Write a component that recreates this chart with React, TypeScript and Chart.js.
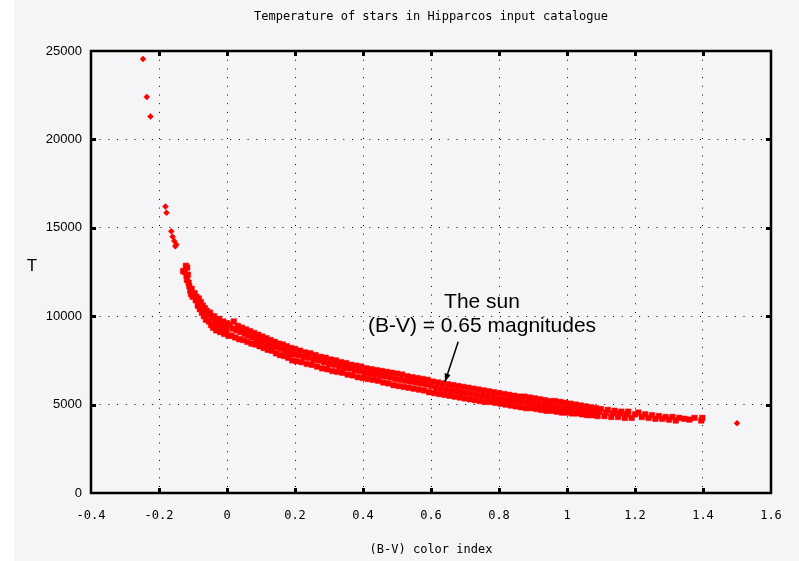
import React, { useEffect, useRef } from "react";
import { Chart, registerables } from "chart.js";

Chart.register(...registerables);

const titleText = "Temperature of stars in Hipparcos input catalogue";
const xAxisTitle = "(B-V) color index";
const yAxisTitle = "T";
const sunLines = ["The sun", "(B-V) = 0.65 magnitudes"];
const sunTextAt = [0.75, 10800, 9450]; // x, y line1, y line2 (data units)
const sunArrowFrom = [0.68, 8550];
const sunArrowTo = [0.641, 6280];

const xMin = -0.4;
const xMax = 1.6;
const xStep = 0.2;
const yMin = 0;
const yMax = 25000;
const yStep = 5000;

// [B-V, T] pairs
const hotStars: number[][] = [
  [-0.247, 24550], [-0.236, 22400], [-0.225, 21300], [-0.181, 16200], [-0.178, 15850],
  [-0.164, 14800], [-0.16, 14500], [-0.155, 14250], [-0.152, 13950], [-0.149, 14050],
  [1.5, 3950],
];

const bStars: number[][] = [
  [-0.121, 12850], [-0.117, 12750], [-0.129, 12550], [-0.124, 12500], [-0.119, 12300],
  [-0.115, 12350], [-0.118, 12050], [-0.113, 11900], [-0.111, 11700], [-0.108, 11450],
  [-0.104, 11550], [-0.106, 11250], [-0.101, 11100],
  [-0.095, 11300], [-0.092, 10900], [-0.09, 11100], [-0.086, 10600], [-0.083, 11000],
  [-0.08, 10400], [-0.077, 10800], [-0.074, 10200], [-0.071, 10600], [-0.068, 10000],
  [-0.065, 10450], [-0.062, 9800], [-0.059, 10300], [-0.056, 10100], [-0.053, 9700],
  [-0.05, 10200], [-0.047, 9500], [-0.044, 9900], [-0.041, 9350], [-0.038, 10000],
  [-0.035, 9600], [-0.032, 9200], [-0.029, 9750], [-0.026, 9400], [-0.023, 9850],
  [-0.02, 9100], [-0.017, 9550], [-0.014, 9300], [-0.011, 9700], [-0.008, 9000],
  [-0.005, 9450], [-0.002, 9200], [0.001, 9600], [0.004, 8900],
];

const aStars: number[][] = [
  [0.008, 9500], [0.012, 8900], [0.016, 9300], [0.02, 9700], [0.024, 8800], [0.028, 9200],
  [0.032, 9450], [0.036, 8700], [0.04, 9100], [0.044, 9350], [0.048, 8650], [0.052, 9000],
  [0.056, 9250], [0.06, 8550], [0.064, 8900], [0.068, 9150], [0.072, 8450], [0.076, 8800],
  [0.08, 9050], [0.084, 8400], [0.088, 8700], [0.092, 8950], [0.096, 8300], [0.1, 8600],
  [0.104, 8850], [0.108, 8200], [0.112, 8500], [0.116, 8750], [0.12, 8100], [0.124, 8400],
  [0.128, 8650], [0.132, 8050], [0.136, 8300], [0.14, 8550], [0.144, 7900], [0.148, 8250],
  [0.152, 8450], [0.156, 7800], [0.16, 8150], [0.164, 8400], [0.168, 7750], [0.172, 8050],
  [0.176, 8300], [0.18, 7650], [0.184, 7950], [0.188, 8200], [0.192, 7500], [0.196, 7850],
  [0.2, 8150],
];

const fStars: number[][] = [
  [0.205, 7450], [0.21, 7800], [0.215, 8050], [0.22, 7400], [0.225, 7700], [0.23, 7950],
  [0.235, 7300], [0.24, 7650], [0.245, 7900], [0.25, 7250], [0.255, 7550], [0.26, 7800],
  [0.265, 7150], [0.27, 7500], [0.275, 7700], [0.28, 7050], [0.285, 7400], [0.29, 7650],
  [0.295, 7000], [0.3, 7300], [0.305, 7550], [0.31, 6900], [0.315, 7250], [0.32, 7500],
  [0.325, 6850], [0.33, 7150], [0.335, 7400], [0.34, 6800], [0.345, 7100], [0.35, 7350],
  [0.355, 6700], [0.36, 7050], [0.365, 7250], [0.37, 6650], [0.375, 6950], [0.38, 7200],
  [0.385, 6550], [0.39, 6900], [0.395, 7150], [0.4, 6500],
  [0.405, 6800], [0.41, 7050], [0.415, 6450], [0.42, 6750], [0.425, 7000], [0.43, 6400],
  [0.435, 6700], [0.44, 6950], [0.445, 6350], [0.45, 6650], [0.455, 6900], [0.46, 6250],
  [0.465, 6600], [0.47, 6850], [0.475, 6200], [0.48, 6550], [0.485, 6800], [0.49, 6100],
  [0.495, 6450], [0.5, 6750], [0.505, 6050], [0.51, 6400], [0.515, 6700], [0.52, 6000],
  [0.525, 6350], [0.53, 6600], [0.535, 5950], [0.54, 6300], [0.545, 6550], [0.55, 5900],
  [0.555, 6250], [0.56, 6500], [0.565, 5850], [0.57, 6200], [0.575, 6450], [0.58, 5800],
  [0.585, 6150], [0.59, 6400], [0.595, 5700], [0.6, 6050],
];

const gStars: number[][] = [
  [0.605, 6300], [0.61, 5650], [0.615, 5950], [0.62, 6250], [0.625, 5600], [0.63, 5900],
  [0.635, 6200], [0.64, 5550], [0.645, 5850], [0.65, 6150], [0.655, 5500], [0.66, 5800],
  [0.665, 6100], [0.67, 5450], [0.675, 5750], [0.68, 6050], [0.685, 5400], [0.69, 5700],
  [0.695, 6000], [0.7, 5350], [0.705, 5650], [0.71, 5950], [0.715, 5300], [0.72, 5600],
  [0.725, 5900], [0.73, 5250], [0.735, 5550], [0.74, 5850], [0.745, 5200], [0.75, 5500],
  [0.755, 5800], [0.76, 5150], [0.765, 5450], [0.77, 5750], [0.775, 5150], [0.78, 5400],
  [0.785, 5700], [0.79, 5100], [0.795, 5350], [0.8, 5650],
  [0.805, 5050], [0.81, 5300], [0.815, 5600], [0.82, 5000], [0.825, 5250], [0.83, 5550],
  [0.835, 4950], [0.84, 5250], [0.845, 5500], [0.85, 4900], [0.855, 5200], [0.86, 5450],
  [0.865, 4850], [0.87, 5150], [0.875, 5450], [0.88, 4800], [0.885, 5100], [0.89, 5400],
  [0.895, 4800], [0.9, 5050], [0.905, 5350], [0.91, 4750], [0.915, 5000], [0.92, 5300],
  [0.925, 4700], [0.93, 4950], [0.935, 5250], [0.94, 4650], [0.945, 4950], [0.95, 5200],
  [0.955, 4650], [0.96, 4900], [0.965, 5200], [0.97, 4600], [0.975, 4850], [0.98, 5150],
  [0.985, 4550], [0.99, 4800], [0.995, 5100], [1.0, 4550],
];

const kStars: number[][] = [
  [1.005, 4800], [1.01, 5050], [1.015, 4500], [1.02, 4750], [1.025, 5000], [1.03, 4500],
  [1.035, 4700], [1.04, 4950], [1.045, 4450], [1.05, 4700], [1.055, 4900], [1.06, 4400],
  [1.065, 4650], [1.07, 4850], [1.075, 4400], [1.08, 4600], [1.085, 4800], [1.09, 4350],
  [1.095, 4600], [1.1, 4750], [1.11, 4350], [1.115, 4550], [1.12, 4700], [1.13, 4300],
  [1.135, 4500], [1.14, 4650], [1.15, 4300], [1.155, 4500], [1.16, 4600], [1.17, 4250],
  [1.175, 4450], [1.18, 4600], [1.19, 4250], [1.2, 4450],
  [1.21, 4550], [1.22, 4300], [1.23, 4450], [1.24, 4250], [1.25, 4400], [1.26, 4200],
  [1.27, 4350], [1.28, 4200], [1.29, 4300], [1.3, 4150], [1.31, 4300], [1.32, 4100],
  [1.33, 4250], [1.345, 4200], [1.36, 4150], [1.375, 4250], [1.395, 4100], [1.398, 4250],
];

const bandStars = [...bStars, ...aStars, ...fStars, ...gStars, ...kStars];

const MONO = "'DejaVu Sans Mono', monospace";
const SANS = "'Liberation Sans', Arial, sans-serif";

const decorPlugin = {
  id: "decor",
  beforeDraw(chart: any) {
    const { ctx, width, height } = chart;
    ctx.save();
    ctx.fillStyle = "#ffffff";
    ctx.fillRect(0, 0, width, height);
    ctx.fillStyle = "#f5f5f7";
    ctx.fillRect(14, 0, width - 14, height);
    ctx.restore();
  },
  afterDatasetsDraw(chart: any) {
    const { ctx, chartArea } = chart;
    const xs = chart.scales.x;
    const ys = chart.scales.y;
    const { left, right, top, bottom } = chartArea;
    ctx.save();
    ctx.fillStyle = "#000";
    for (let v = xMin + xStep; v < xMax - 1e-9; v += xStep) {
      const px = Math.round(xs.getPixelForValue(v));
      ctx.fillRect(px - 1, bottom - 5, 3, 5);
      ctx.fillRect(px - 1, top, 3, 5);
    }
    for (let v = yMin + yStep; v < yMax - 1e-9; v += yStep) {
      const py = Math.round(ys.getPixelForValue(v));
      ctx.fillRect(left, py - 1, 5, 3);
      ctx.fillRect(right - 5, py - 1, 5, 3);
    }
    ctx.strokeStyle = "#000";
    ctx.lineWidth = 2.5;
    ctx.strokeRect(left, top, right - left, bottom - top);

    ctx.fillStyle = "#000";
    ctx.textAlign = "center";
    ctx.textBaseline = "middle";
    ctx.font = `12px ${MONO}`;
    ctx.fillText(titleText, (left + right) / 2, 17);
    ctx.fillText(xAxisTitle, (left + right) / 2, 550);
    ctx.font = `17px ${SANS}`;
    ctx.fillText(yAxisTitle, 32, ys.getPixelForValue(12800));

    ctx.font = `21px ${SANS}`;
    ctx.fillText(sunLines[0], xs.getPixelForValue(sunTextAt[0]), ys.getPixelForValue(sunTextAt[1]));
    ctx.fillText(sunLines[1], xs.getPixelForValue(sunTextAt[0]), ys.getPixelForValue(sunTextAt[2]));
    const x1 = xs.getPixelForValue(sunArrowFrom[0]);
    const y1 = ys.getPixelForValue(sunArrowFrom[1]);
    const x2 = xs.getPixelForValue(sunArrowTo[0]);
    const y2 = ys.getPixelForValue(sunArrowTo[1]);
    ctx.strokeStyle = "#000";
    ctx.lineWidth = 1.5;
    ctx.beginPath();
    ctx.moveTo(x1, y1);
    ctx.lineTo(x2, y2);
    ctx.stroke();
    const ang = Math.atan2(y2 - y1, x2 - x1);
    const hl = 9;
    ctx.beginPath();
    ctx.moveTo(x2, y2);
    ctx.lineTo(x2 - hl * Math.cos(ang - 0.35), y2 - hl * Math.sin(ang - 0.35));
    ctx.lineTo(x2 - hl * Math.cos(ang + 0.35), y2 - hl * Math.sin(ang + 0.35));
    ctx.closePath();
    ctx.fill();
    ctx.restore();
  },
};

export default function App() {
  const ref = useRef<HTMLCanvasElement | null>(null);
  useEffect(() => {
    if (!ref.current) return;
    const chart = new Chart(ref.current, {
      type: "scatter",
      data: {
        datasets: [
          {
            label: "sparse stars",
            data: hotStars.map(([x, y]) => ({ x, y })),
            pointStyle: "rectRot",
            pointRadius: 3,
            backgroundColor: "#ff0000",
            borderColor: "#ff0000",
            borderWidth: 0.5,
          },
          {
            label: "main sequence band",
            data: bandStars.map(([x, y]) => ({ x, y })),
            pointStyle: "rect",
            pointRadius: 3.9,
            backgroundColor: "#ff0000",
            borderColor: "#ff0000",
            borderWidth: 0.5,
          },
        ],
      },
      options: {
        responsive: false,
        animation: false,
        events: [],
        layout: { padding: { top: 51, right: 28, left: 0, bottom: 0 } },
        plugins: { legend: { display: false }, tooltip: { enabled: false }, title: { display: false } },
        scales: {
          x: {
            type: "linear",
            min: xMin,
            max: xMax,
            afterFit: (s: any) => { s.height = 68; },
            afterBuildTicks: (s: any) => {
              const t = [];
              for (let i = 0; i <= Math.round((xMax - xMin) / xStep); i++) t.push({ value: +(xMin + i * xStep).toFixed(1) });
              s.ticks = t;
            },
            ticks: {
              padding: 16,
              color: "#000",
              font: { family: MONO, size: 12 },
              maxRotation: 0,
              callback: (v: any) => String(Number(Number(v).toFixed(1))),
            },
            grid: { color: "#000", lineWidth: 1, drawTicks: false },
            border: { display: false, dash: [1, 7.7] },
          },
          y: {
            type: "linear",
            min: yMin,
            max: yMax,
            afterFit: (s: any) => { s.width = 91; },
            ticks: {
              stepSize: yStep,
              padding: 9,
              color: "#000",
              font: { family: SANS, size: 13 },
              callback: (v: any) => String(v),
            },
            grid: { color: "#000", lineWidth: 1, drawTicks: false },
            border: { display: false, dash: [1, 7.7] },
          },
        },
      },
      plugins: [decorPlugin],
    });
    return () => chart.destroy();
  }, []);
  return (
    <div style={{ position: "fixed", left: 0, top: 0, width: 799, height: 561 }}>
      <canvas ref={ref} width={799} height={561} style={{ display: "block", width: 799, height: 561 }} />
    </div>
  );
}
